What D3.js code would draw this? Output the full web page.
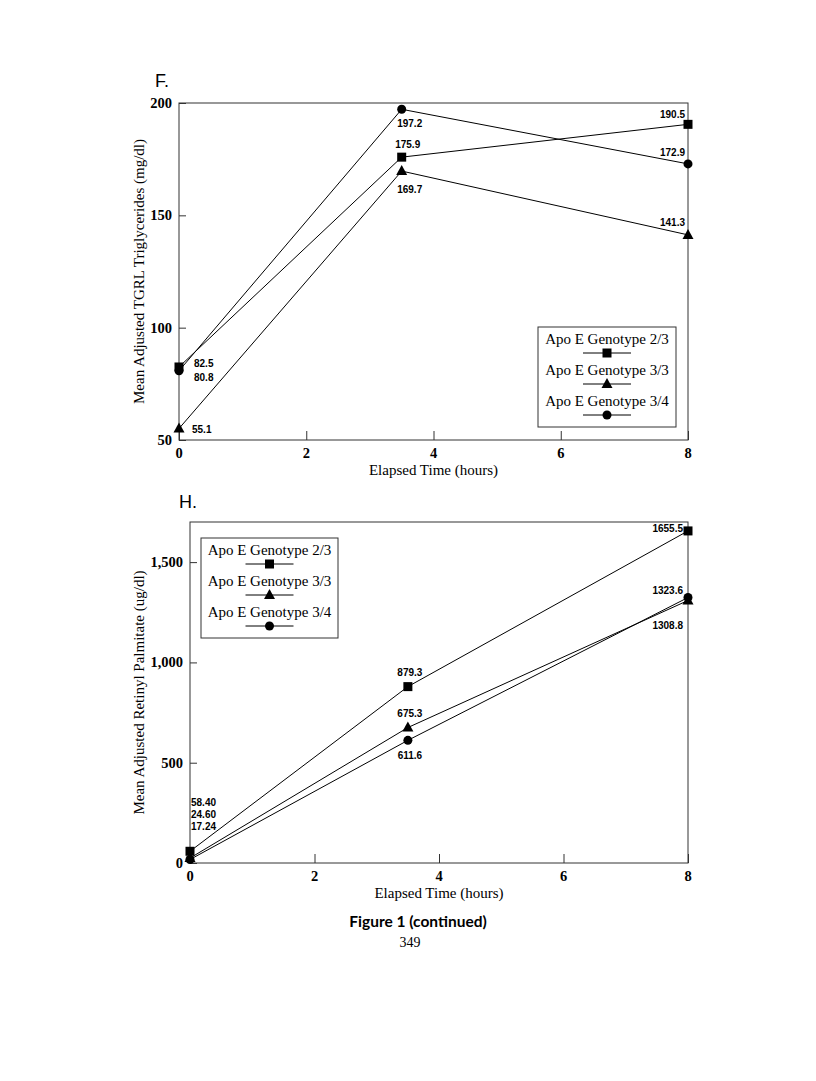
<!DOCTYPE html>
<html>
<head>
<meta charset="utf-8">
<script src="https://cdn.jsdelivr.net/npm/d3@7"></script>
<style>
  body { margin: 0; background: #fff; }
  svg { display: block; }
</style>
</head>
<body>
<svg width="816" height="1081"></svg>
<script>
// --- data ---
const hours = [0, 3.5, 8];
const genotypes = ["Apo E Genotype 2/3", "Apo E Genotype 3/3", "Apo E Genotype 3/4"];
const symbols = ["square", "triangle", "circle"];

// panel F : TGRL triglycerides (mg/dl)
const tgrl23 = [82.5, 175.9, 190.5];
const tgrl33 = [55.1, 169.7, 141.3];
const tgrl34 = [80.8, 197.2, 172.9];
const tgrlLabels23 = ["82.5", "175.9", "190.5"];
const tgrlLabels33 = ["55.1", "169.7", "141.3"];
const tgrlLabels34 = ["80.8", "197.2", "172.9"];
const tgrlTicks = [50, 100, 150, 200];

// panel H : retinyl palmitate (ug/dl)
const rp23 = [58.40, 879.3, 1655.5];
const rp33 = [24.60, 675.3, 1308.8];
const rp34 = [17.24, 611.6, 1323.6];
const rpLabels23 = ["58.40", "879.3", "1655.5"];
const rpLabels33 = ["24.60", "675.3", "1308.8"];
const rpLabels34 = ["17.24", "611.6", "1323.6"];
const rpTicks = [0, 500, 1000, 1500];

const xTicks = [0, 2, 4, 6, 8];

const svg = d3.select("svg");
const serif = "'Liberation Serif', 'Times New Roman', serif";
const sans = "'Liberation Sans', Arial, sans-serif";

function marker(g, type, x, y) {
  if (type === "square") {
    g.append("rect").attr("x", x - 4.5).attr("y", y - 4.5).attr("width", 9).attr("height", 9).attr("fill", "#000");
  } else if (type === "triangle") {
    g.append("path").attr("d", `M${x},${y - 6} L${x + 5.5},${y + 4} L${x - 5.5},${y + 4} Z`).attr("fill", "#000");
  } else {
    g.append("circle").attr("cx", x).attr("cy", y).attr("r", 4.5).attr("fill", "#000");
  }
}

// offsets = [dx, dy, anchor] for each series / point
function drawPanel(cfg) {
  const g = svg.append("g");
  const x = d3.scaleLinear().domain([0, 8]).range([cfg.left, cfg.right]);
  const y = d3.scaleLinear().domain(cfg.yDomain).range([cfg.bottom, cfg.top]);

  g.append("rect")
    .attr("x", cfg.left).attr("y", cfg.top)
    .attr("width", cfg.right - cfg.left).attr("height", cfg.bottom - cfg.top)
    .attr("fill", "none").attr("stroke", "#333").attr("stroke-width", 1);

  // ticks point inward
  const xa = g.append("g").attr("transform", `translate(0,${cfg.bottom})`)
    .call(d3.axisTop(x).tickValues(xTicks).tickSize(9).tickFormat(""));
  xa.select(".domain").remove();
  xa.selectAll("line").attr("stroke", "#333");
  g.selectAll(".xlab").data(xTicks).join("text")
    .attr("x", d => x(d)).attr("y", cfg.bottom + 18)
    .attr("text-anchor", "middle").attr("font-family", serif).attr("font-weight", "bold")
    .attr("font-size", 14.5).text(d => d);

  const ya = g.append("g").attr("transform", `translate(${cfg.left},0)`)
    .call(d3.axisRight(y).tickValues(cfg.yTicks).tickSize(7).tickFormat(""));
  ya.select(".domain").remove();
  ya.selectAll("line").attr("stroke", "#333");
  g.selectAll(".ylab").data(cfg.yTicks).join("text")
    .attr("x", cfg.left - 7).attr("y", d => y(d) + 5)
    .attr("text-anchor", "end").attr("font-family", serif).attr("font-weight", "bold")
    .attr("font-size", 14.5).text(d => d3.format(",")(d));

  g.append("text")
    .attr("x", (cfg.left + cfg.right) / 2).attr("y", cfg.bottom + 35)
    .attr("text-anchor", "middle").attr("font-family", serif).attr("font-size", 15)
    .text("Elapsed Time (hours)");
  g.append("text")
    .attr("transform", `translate(144,${(cfg.top + cfg.bottom) / 2}) rotate(-90)`)
    .attr("text-anchor", "middle").attr("font-family", serif).attr("font-size", 15)
    .text(cfg.yTitle);

  g.append("text").attr("x", cfg.letterX).attr("y", cfg.letterY)
    .attr("font-family", sans).attr("font-size", 18).text(cfg.letter);

  const line = d3.line().x((d, i) => x(hours[i])).y(d => y(d));
  cfg.series.forEach(s => {
    g.append("path").attr("d", line(s)).attr("fill", "none")
      .attr("stroke", "#000").attr("stroke-width", 1);
  });
  cfg.series.forEach((s, k) => {
    s.forEach((v, i) => {
      marker(g, symbols[k], x(hours[i]), y(v));
      const o = cfg.offsets[k][i];
      g.append("text")
        .attr("x", x(hours[i]) + o[0]).attr("y", y(v) + o[1])
        .attr("text-anchor", o[2]).attr("font-family", sans).attr("font-weight", "bold")
        .attr("font-size", 10).text(cfg.labels[k][i]);
    });
  });

  // legend
  const L = cfg.legend;
  g.append("rect").attr("x", L.x).attr("y", L.y).attr("width", L.w).attr("height", L.h)
    .attr("fill", "#fff").attr("stroke", "#333").attr("stroke-width", 1);
  genotypes.forEach((name, k) => {
    const cx = L.x + L.w / 2;
    const ty = L.y + 17 + k * 31;
    g.append("text").attr("x", cx).attr("y", ty)
      .attr("text-anchor", "middle").attr("font-family", serif).attr("font-size", 15)
      .text(name);
    const ly = ty + 9;
    g.append("line").attr("x1", cx - 24).attr("x2", cx + 24).attr("y1", ly).attr("y2", ly)
      .attr("stroke", "#000").attr("stroke-width", 1);
    marker(g, symbols[k], cx, ly);
  });
}

drawPanel({
  letter: "F.", letterX: 155, letterY: 87,
  left: 179, right: 688, top: 103, bottom: 440,
  yDomain: [50, 200], yTicks: tgrlTicks,
  yTitle: "Mean Adjusted TGRL Triglycerides (mg/dl)",
  series: [tgrl23, tgrl33, tgrl34],
  labels: [tgrlLabels23, tgrlLabels33, tgrlLabels34],
  offsets: [
    [[15, 0, "start"], [6, -9, "middle"], [-3, -6, "end"]],
    [[13, 4, "start"], [8, 22, "middle"], [-3, -9, "end"]],
    [[15, 10, "start"], [8, 18, "middle"], [-3, -8, "end"]]
  ],
  legend: { x: 538, y: 327, w: 138, h: 100 }
});

drawPanel({
  letter: "H.", letterX: 179, letterY: 508,
  left: 190, right: 688, top: 522, bottom: 863,
  yDomain: [0, 1700], yTicks: rpTicks,
  yTitle: "Mean Adjusted Retinyl Palmitate (ug/dl)",
  series: [rp23, rp33, rp34],
  labels: [rpLabels23, rpLabels33, rpLabels34],
  offsets: [
    [[1, -45, "start"], [2, -11, "middle"], [-5, 1, "end"]],
    [[1, -40, "start"], [2, -11, "middle"], [-5, 29, "end"]],
    [[1, -30, "start"], [2, 19, "middle"], [-5, -4, "end"]]
  ],
  legend: { x: 201, y: 538, w: 137, h: 100 }
});

svg.append("text").attr("x", 418).attr("y", 927).attr("text-anchor", "middle")
  .attr("font-family", "Lato, 'Open Sans', sans-serif").attr("font-weight", "bold")
  .attr("font-size", 15.5).text("Figure 1 (continued)");
svg.append("text").attr("x", 410).attr("y", 947).attr("text-anchor", "middle")
  .attr("font-family", serif).attr("font-size", 14).text("349");
</script>
</body>
</html>
